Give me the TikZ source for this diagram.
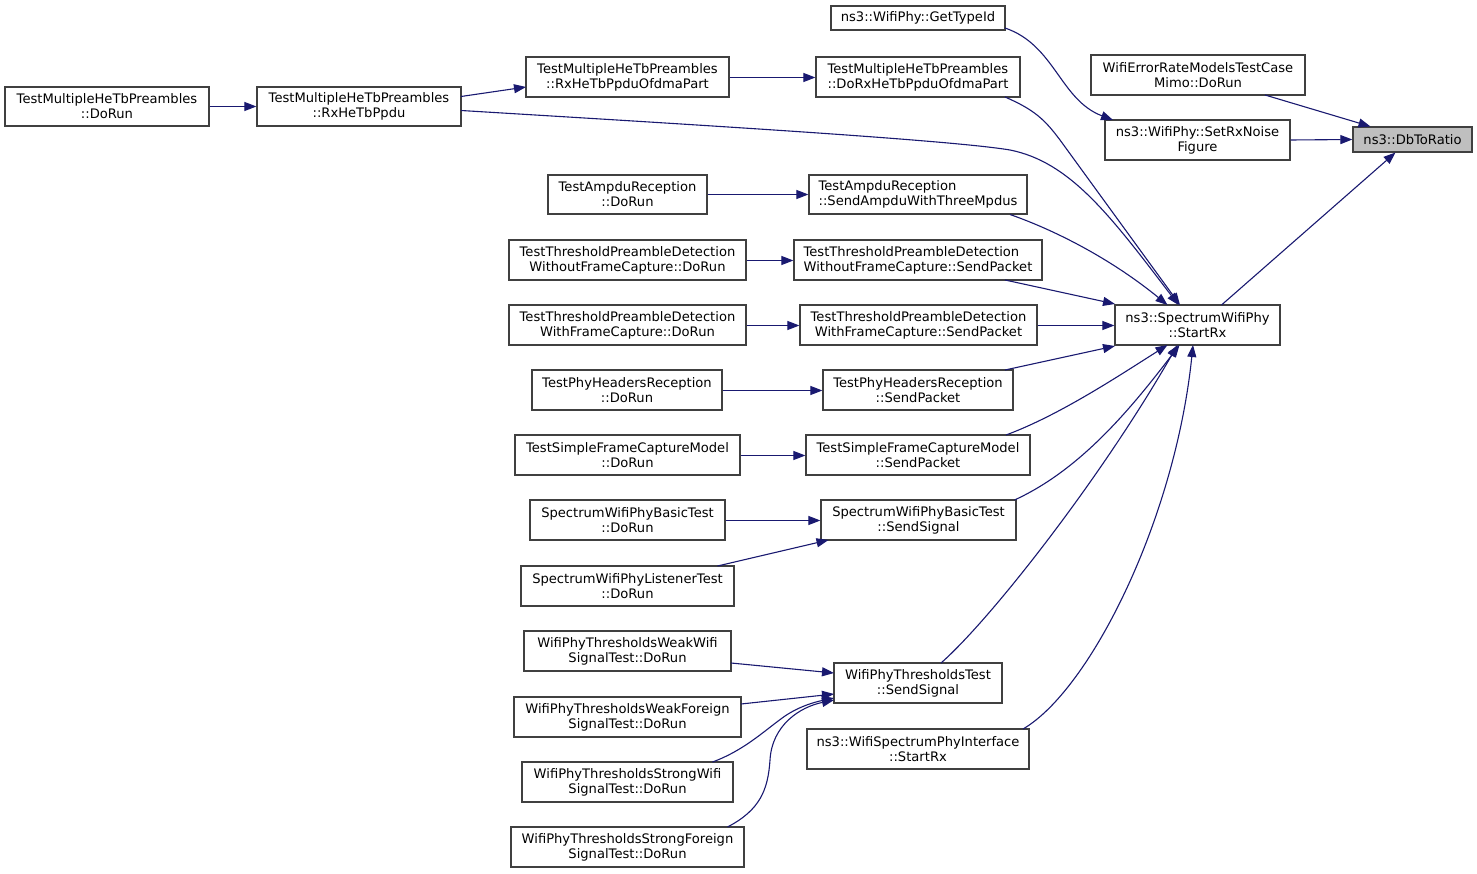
\documentclass[tikz,border=0pt]{standalone}
\usepackage{fontspec}
\setmainfont{DejaVu Sans}
\usetikzlibrary{arrows.meta,calc}
\definecolor{edgec}{HTML}{191970}
\definecolor{boxc}{HTML}{404040}
\definecolor{hilite}{HTML}{BFBFBF}
\tikzset{
  box/.style={draw=boxc, line width=1.2pt, fill=white, inner sep=0pt, align=center,
    font=\fontsize{13.1}{14.8}\selectfont},
  edge/.style={draw=edgec, line width=1.1pt, -{Triangle[length=12pt,width=9pt]}},
}
\newcommand{\bx}[6]{\node[box, minimum width=#4, minimum height=#5, #6] (#1) at #2 {#3};}
\newcommand{\lft}[2]{\setbox0=\hbox{#2}\makebox[\wd0][l]{#1}\\#2}
\newcommand{\hedge}[2]{\draw[edge] ($(#1.east)+(0,0.5)$) -- ($(#2.west)+(0,0.5)$);}
\begin{document}
\begin{tikzpicture}[x=1pt,y=-1pt]
\useasboundingbox (0,0) rectangle (1477,874);
\bx{dbr}{(1412.5,139.5)}{ns3::DbToRatio}{119}{25}{fill=hilite}
\bx{mimo}{(1198,75)}{WifiErrorRateModelsTestCase\\Mimo::DoRun}{214}{40}{}
\bx{setrx}{(1197.5,140)}{ns3::WifiPhy::SetRxNoise\\Figure}{185}{40}{}
\bx{gettype}{(918,18)}{ns3::WifiPhy::GetTypeId}{174}{24}{}
\bx{dorx}{(918,77)}{\lft{TestMultipleHeTbPreambles}{::DoRxHeTbPpduOfdmaPart}}{204}{40}{}
\bx{rxofdma}{(627.5,77)}{TestMultipleHeTbPreambles\\::RxHeTbPpduOfdmaPart}{203}{40}{}
\bx{rxhe}{(359,106.5)}{TestMultipleHeTbPreambles\\::RxHeTbPpdu}{204}{39}{}
\bx{dorunmh}{(107,106.5)}{TestMultipleHeTbPreambles\\::DoRun}{204}{39}{}
\bx{sprx}{(1197.5,325)}{ns3::SpectrumWifiPhy\\::StartRx}{165}{40}{}
\bx{sendampdu}{(918,194.5)}{\lft{TestAmpduReception}{::SendAmpduWithThreeMpdus}}{218}{39}{}
\bx{ampdurun}{(627.5,194.5)}{TestAmpduReception\\::DoRun}{159}{39}{}
\bx{wofcsend}{(918,260)}{\lft{TestThresholdPreambleDetection}{WithoutFrameCapture::SendPacket}}{248}{40}{}
\bx{wofcrun}{(627.5,260)}{TestThresholdPreambleDetection\\WithoutFrameCapture::DoRun}{237}{40}{}
\bx{wfcsend}{(918.5,325)}{TestThresholdPreambleDetection\\WithFrameCapture::SendPacket}{237}{40}{}
\bx{wfcrun}{(627.5,325)}{TestThresholdPreambleDetection\\WithFrameCapture::DoRun}{237}{40}{}
\bx{phsend}{(918,390)}{TestPhyHeadersReception\\::SendPacket}{190}{40}{}
\bx{phrun}{(627,390)}{TestPhyHeadersReception\\::DoRun}{190}{40}{}
\bx{sfcsend}{(918,455)}{TestSimpleFrameCaptureModel\\::SendPacket}{224}{40}{}
\bx{sfcrun}{(627.5,455)}{TestSimpleFrameCaptureModel\\::DoRun}{225}{40}{}
\bx{basicsend}{(918.5,520)}{SpectrumWifiPhyBasicTest\\::SendSignal}{195}{40}{}
\bx{basicrun}{(627.5,520)}{SpectrumWifiPhyBasicTest\\::DoRun}{195}{40}{}
\bx{listenrun}{(627.5,586)}{SpectrumWifiPhyListenerTest\\::DoRun}{213}{40}{}
\bx{weakwifi}{(627.5,651)}{WifiPhyThresholdsWeakWifi\\SignalTest::DoRun}{207}{40}{}
\bx{thsend}{(918,683)}{WifiPhyThresholdsTest\\::SendSignal}{168}{40}{}
\bx{weakfor}{(627.5,717)}{WifiPhyThresholdsWeakForeign\\SignalTest::DoRun}{227}{40}{}
\bx{wspi}{(918,749)}{ns3::WifiSpectrumPhyInterface\\::StartRx}{222}{40}{}
\bx{strongwifi}{(627.5,782)}{WifiPhyThresholdsStrongWifi\\SignalTest::DoRun}{211}{40}{}
\bx{strongfor}{(627.5,847)}{WifiPhyThresholdsStrongForeign\\SignalTest::DoRun}{233}{40}{}

% edges into DbToRatio
\draw[edge] ($(mimo)+(67,20)$) -- ($(dbr)+(-42,-13)$);
\draw[edge] (setrx.east) -- (dbr.west);
\draw[edge] ($(sprx)+(24,-20)$) -- ($(dbr)+(-17,13)$);
% GetTypeId -> SetRxNoise
\draw[edge] ($(gettype)+(87,10)$) .. controls (1055,45) and (1060,100) .. ($(setrx)+(-84.5,-20)$);
% top chain
\draw[edge] (dorunmh.east) -- (rxhe.west);
\draw[edge] ($(rxhe)+(102,-10)$) -- ($(rxofdma)+(-101.5,10)$);
\hedge{rxofdma}{dorx}
\draw[edge] ($(dorx)+(87,20)$) .. controls (1035,110) and (1045,120) .. (1060,140) -- ($(sprx)+(-17.5,-20)$);
\draw[edge] ($(rxhe)+(102,4)$) .. controls (700,125) and (950,140) .. (1010,150) .. controls (1070,162) and (1110,215) .. ($(sprx)+(-19,-20)$);
% middle callers
\draw[edge] (ampdurun.east) -- (sendampdu.west);
\draw[edge] ($(sendampdu)+(92,20)$) .. controls (1060,232) and (1115,262) .. ($(sprx)+(-30,-20)$);
\hedge{wofcrun}{wofcsend}
\draw[edge] ($(wofcsend)+(87,20)$) -- ($(sprx)+(-82.5,-21)$);
\hedge{wfcrun}{wfcsend}
\hedge{wfcsend}{sprx}
\hedge{phrun}{phsend}
\draw[edge] ($(phsend)+(87,-20)$) -- ($(sprx)+(-82.5,21)$);
\hedge{sfcrun}{sfcsend}
\draw[edge] ($(sfcsend)+(88,-20)$) .. controls (1060,415) and (1120,375) .. ($(sprx)+(-30,20)$);
\hedge{basicrun}{basicsend}
\draw[edge] ($(basicsend)+(96,-20)$) .. controls (1080,470) and (1130,410) .. ($(sprx)+(-18,20)$);
\draw[edge] ($(listenrun)+(90,-20)$) -- ($(basicsend)+(-90,20)$);
\draw[edge] ($(thsend)+(23,-20)$) .. controls (990,620) and (1100,480) .. ($(sprx)+(-20,20)$);
\draw[edge] ($(wspi)+(105,-20)$) .. controls (1090,690) and (1175,520) .. ($(sprx)+(-4.5,20)$);
% thresholds callers
\draw[edge] ($(weakwifi)+(103.5,12)$) -- ($(thsend)+(-84,-10)$);
\draw[edge] ($(weakfor)+(113.5,-13)$) -- ($(thsend)+(-84,11)$);
\draw[edge] ($(strongwifi)+(85,-20)$) .. controls (745,750) and (765,730) .. (785,716) .. controls (800,706) and (815,702) .. ($(thsend)+(-84,15)$);
\draw[edge] ($(strongfor)+(100,-20)$) .. controls (760,810) and (768,790) .. (770,760) .. controls (772,725) and (800,707) .. ($(thsend)+(-84,17)$);
\end{tikzpicture}
\end{document}
